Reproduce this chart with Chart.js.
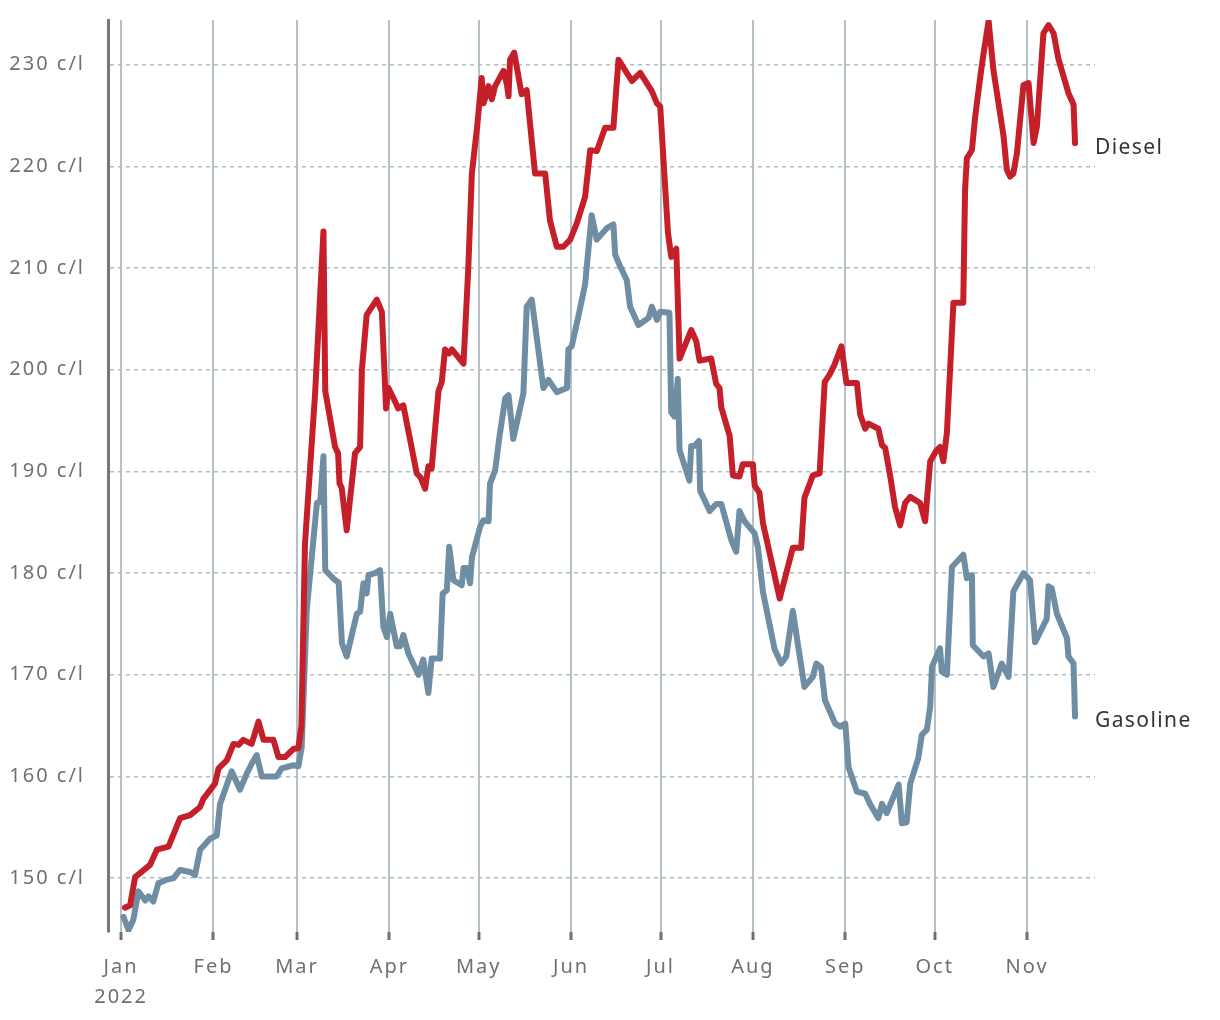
<!DOCTYPE html>
<html>
<head>
<meta charset="utf-8">
<script src="https://cdn.jsdelivr.net/npm/chart.js@4"></script>
<style>
  html, body { margin: 0; padding: 0; background: #ffffff; }
  #wrap { width: 1220px; height: 1020px; }
</style>
</head>
<body>
<div id="wrap"><canvas id="c" width="1220" height="1020"></canvas></div>
<script>
// ---- Data (x = days since 1 Jan 2022) ----
const monthStarts = [0, 31, 59, 90, 120, 151, 181, 212, 243, 273, 304];
const monthLabels = [['Jan', '2022'], 'Feb', 'Mar', 'Apr', 'May', 'Jun', 'Jul', 'Aug', 'Sep', 'Oct', 'Nov'];
const yTicks = [150, 160, 170, 180, 190, 200, 210, 220, 230];
const seriesNames = ['Diesel', 'Gasoline'];

const dieselDays = [1.3,3,4.7,9.7,12,15.9,19.8,23.2,26.5,27.6,31.5,32.7,35.5,37.7,39.4,41,43.8,46.1,47.8,51.1,52.8,55,57.8,59.5,60.5,
  61.7,65.1,67.9,68.5,71.8,72.8,73.3,74,75.7,78.5,80.2,80.8,82.4,85.8,87.5,88.9,89.7,91.9,93,94.7,99.2,100.5,102,103.1,104.2,106.5,107.6,108.7,110,111,114.9,
  116.5,117.7,119.5,121,121.6,122.5,123.3,124.4,125.5,128.3,129.5,130,130.5,131.9,134.4,136.1,138.9,142.3,143.9,146.2,148.4,150.7,152.9,155.7,157.4,159.6,162.4,165.2,166.9,171.4,174.2,178.1,179.8,180.9,
  183.5,184.6,186.3,187.4,191.3,193,194.1,198,199.7,200.8,201.4,204.2,205.3,207.5,208.6,212,212.6,214.2,215.4,221,225.4,228.2,229.3,232.1,234.4,236.1,237.7,239.4,241.7,
  243.4,246.9,248,249.7,250.8,254.1,255.3,256.4,258.1,259.7,261.4,263.1,264.8,268.1,269.8,271.5,273.7,274.8,275.9,277.1,279.3,282.6,283.2,283.8,285.5,286.6,288.3,289.4,291.1,
  292.7,296.1,297.2,298.3,299.4,300.6,302.8,304.5,306.2,307.3,309.5,311.2,312.9,314.5,317.9,319.6,320.1];
const dieselValues = [147.1,147.3,150.1,151.3,152.8,153.1,155.9,156.2,157.0,157.8,159.3,160.8,161.6,163.2,163.1,163.6,163.2,165.4,163.6,163.6,161.9,161.9,162.7,162.8,165.0,
  182.9,197.7,213.6,197.9,192.4,191.8,188.8,188.4,184.2,191.8,192.4,200.0,205.4,206.9,205.7,196.2,198.2,196.9,196.2,196.5,189.8,189.4,188.3,190.5,190.3,197.9,198.8,202.0,201.6,202.0,200.6,
  210.0,219.3,224.0,228.7,226.2,227.0,227.9,226.6,227.9,229.4,228.0,226.9,230.5,231.2,227.1,227.5,219.3,219.3,214.7,212.1,212.1,212.8,214.4,217.0,221.6,221.5,223.8,223.8,230.5,228.4,229.2,227.4,226.2,225.9,
  213.5,211.1,211.9,201.1,203.9,202.8,200.9,201.1,198.6,198.2,196.3,193.5,189.6,189.5,190.7,190.7,188.6,187.9,184.9,177.5,182.5,182.5,187.4,189.6,189.8,198.8,199.5,200.5,202.3,
  198.7,198.7,195.6,194.2,194.7,194.2,192.6,192.3,189.5,186.5,184.7,186.9,187.5,186.9,185.1,191.0,192.1,192.4,191.0,193.8,206.6,206.6,217.7,220.8,221.6,224.9,228.8,231.1,234.3,
  229.5,223.0,219.7,219.0,219.3,221.3,228.0,228.2,222.3,223.9,233.1,233.9,233.1,230.6,227.2,226.1,222.3];

const gasolineDays = [0.8,2.5,4.1,5.8,8.1,9.2,10.8,12.5,14.8,17.6,19.8,23.2,24.8,26.5,29.9,32.1,33.2,37.1,39.9,42.2,43.9,45.5,47.2,52.2,53.9,57.8,59.5,60.6,
  62.3,65.7,66.8,67.9,68.5,71.8,73,74.1,75.7,79.1,80.2,81.3,82.4,83,85.2,86.9,88,89.2,90.3,92.5,93.6,94.7,96.4,99.8,101.4,103.1,104.2,107,107.9,109.3,110.1,111.5,114.3,114.9,116,117.1,117.7,120.5,121.6,123.3,123.8,125.5,
  127,128.9,130,131.6,135,136.1,137.8,141.7,143.4,146.2,149.6,150.1,151.2,153.4,155.7,157.9,159.6,162.9,165.2,165.8,167.4,169.7,170.8,173.6,177,178.1,179.8,180.9,
  184,184.6,185.7,186.8,187.4,190.7,191.3,192.4,193.9,194.3,197.5,199.7,201.4,204.7,206.4,207.5,209.2,212.6,213.7,215.4,219.3,221.5,223.2,225.4,227.1,229.3,232.1,233.3,234.9,
  236.2,239.6,241.3,243,244.1,246.9,249.7,251.3,254.1,255.3,256.9,260.9,262,263.6,264.8,267.5,268.7,270.4,271.5,272.1,274.8,275.4,277.1,278.8,282.6,283.8,285.5,285.8,289.4,291.1,292.7,295.5,297.8,299.4,302.8,305,306.7,310.6,311.2,312.3,314,317.4,317.9,319.6,320.1];
const gasolineValues = [146.2,144.9,145.9,148.7,147.8,148.2,147.7,149.5,149.8,150.0,150.8,150.6,150.3,152.8,153.9,154.2,157.3,160.5,158.7,160.3,161.3,162.1,160.0,160.0,160.8,161.1,161.0,162.9,
  176.4,186.9,187.0,191.5,180.3,179.3,179.1,173.1,171.8,176.0,176.2,179.0,178.0,179.8,180.0,180.3,174.7,173.7,176.0,172.8,172.8,173.9,172.1,170.0,171.5,168.2,171.6,171.6,178.0,178.3,182.6,179.3,178.8,180.5,180.5,179.0,181.5,184.6,185.2,185.1,188.8,190.1,
  193.5,197.2,197.5,193.2,197.7,206.2,206.9,198.2,199.0,197.8,198.2,202.0,202.3,205.2,208.4,215.2,212.8,213.9,214.3,211.3,210.2,208.8,206.2,204.4,205.1,206.2,204.9,205.7,
  205.6,195.8,195.4,199.1,192.1,189.1,192.5,192.5,193.0,188.1,186.1,186.8,186.8,183.3,182.1,186.1,185.1,183.9,182.5,178.1,172.5,171.1,171.8,176.3,173.0,168.8,169.8,171.1,170.7,
  167.5,165.2,164.9,165.2,160.9,158.5,158.3,157.3,155.9,157.3,156.4,159.2,155.4,155.5,159.3,161.8,164.1,164.6,166.9,170.8,172.6,170.3,170.0,180.6,181.8,179.5,179.8,172.9,171.8,172.1,168.8,171.1,169.8,178.2,180.0,179.3,173.2,175.5,178.7,178.5,176.0,173.6,171.8,171.1,165.9];

function toPoints(xs, ys) { return xs.map((x, i) => ({ x: x, y: ys[i] })); }

const FONT = '"Noto Sans", "DejaVu Sans", sans-serif';

const endLabels = {
  id: 'endLabels',
  afterDatasetsDraw(chart) {
    const ctx = chart.ctx;
    ctx.save();
    ctx.font = '21px ' + FONT;
    ctx.fillStyle = '#333333';
    ctx.textAlign = 'left';
    ctx.textBaseline = 'middle';
    try { ctx.letterSpacing = '1.4px'; } catch (e) {}
    chart.data.datasets.forEach((ds, i) => {
      const meta = chart.getDatasetMeta(i);
      const last = meta.data[meta.data.length - 1];
      ctx.fillText(seriesNames[i], chart.chartArea.right, last.y + 5);
    });
    ctx.restore();
  }
};

const spacing = {
  id: 'spacing',
  beforeInit(chart) { try { chart.ctx.letterSpacing = '2px'; } catch (e) {} },
  beforeDraw(chart) { try { chart.ctx.letterSpacing = '2px'; } catch (e) {} }
};

new Chart(document.getElementById('c'), {
  type: 'line',
  data: {
    datasets: [
      { label: seriesNames[0], data: toPoints(dieselDays, dieselValues), borderColor: '#c5202a', borderWidth: 6,
        pointRadius: 0, tension: 0, borderCapStyle: 'round', borderJoinStyle: 'round' },
      { label: seriesNames[1], data: toPoints(gasolineDays, gasolineValues), borderColor: '#6f8ea4', borderWidth: 6,
        pointRadius: 0, tension: 0, borderCapStyle: 'round', borderJoinStyle: 'round' }
    ]
  },
  options: {
    responsive: false,
    animation: false,
    devicePixelRatio: 1,
    layout: { padding: { top: 20, right: 125, left: 0, bottom: 0 } },
    plugins: { legend: { display: false }, tooltip: { enabled: false } },
    scales: {
      x: {
        type: 'linear',
        min: -4.4,
        max: 326.8,
        afterBuildTicks(scale) { scale.ticks = monthStarts.map(v => ({ value: v })); },
        afterFit(scale) { scale.height = 88; scale.paddingLeft = 0; scale.paddingRight = 0; },
        ticks: {
          autoSkip: false, maxRotation: 0, minRotation: 0, padding: 12,
          color: '#707070', font: { family: FONT, size: 20, lineHeight: 1.5 },
          callback(value, index) { return monthLabels[index]; }
        },
        grid: { color: '#b5c1c9', lineWidth: 2, drawTicks: true, tickLength: 8, tickWidth: 3, tickColor: '#707070' },
        border: { display: false }
      },
      y: {
        type: 'linear',
        min: 144.7,
        max: 234.4,
        afterBuildTicks(scale) { scale.ticks = yTicks.map(v => ({ value: v })); },
        afterFit(scale) { scale.width = 108; scale.paddingTop = 0; scale.paddingBottom = 0; },
        ticks: {
          padding: 23, color: '#707070', font: { family: FONT, size: 20 },
          callback(value) { return value + ' c/l'; }
        },
        grid: { color: '#b0bbc3', lineWidth: 1.5, drawTicks: false },
        border: { display: true, color: '#777777', width: 3, dash: [4, 4] }
      }
    }
  },
  plugins: [spacing, endLabels]
});
</script>
</body>
</html>
